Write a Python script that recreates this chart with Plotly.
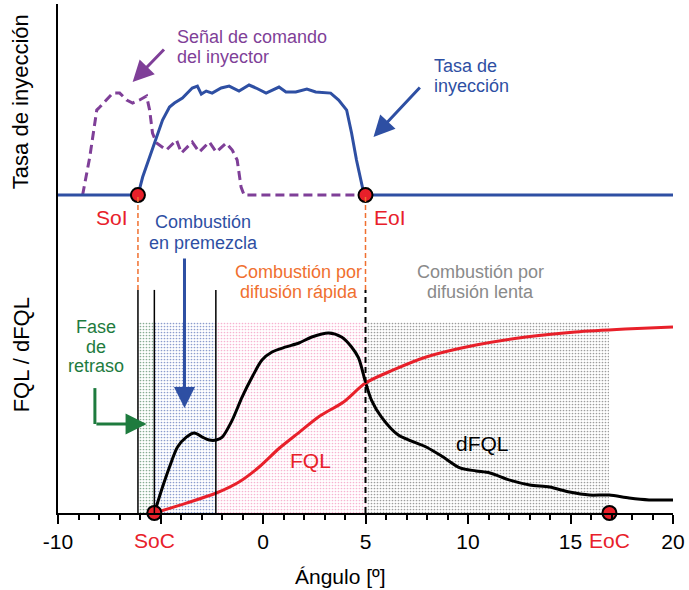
import numpy as np
import plotly.graph_objects as go

# ---------------- data ----------------
# Top panel: injection rate and injector command signal (arbitrary units)
inj_angle = [-10, -6.1, -5.87, -5.53, -5.19, -4.90, -4.56, -4.32, -3.93, -3.45,
             -3.20, -3.01, -2.77, -2.48, -2.04, -1.65, -1.17, -0.68, -0.34, 0.15,
             0.78, 1.12, 1.60, 2.14, 2.57, 3.30, 3.69, 4.08, 4.32, 4.56,
             4.90, 5.0, 20]
inj_rate = [0, 0, 0.167, 0.352, 0.537, 0.694, 0.815, 0.852, 0.898, 0.991,
            1.009, 0.935, 0.963, 0.944, 0.991, 1.009, 0.963, 1.019, 0.991, 0.944,
            1.0, 0.954, 0.954, 0.981, 0.954, 0.944, 0.880, 0.787, 0.574, 0.324,
            0.03, 0, 0]

cmd_angle = [-8.8, -8.45, -8.11, -7.96, -7.33, -6.99, -6.65, -6.36, -6.02, -5.68,
             -5.53, -5.39, -5.19, -4.71, -4.22, -3.98, -3.45, -3.11, -2.62, -2.28,
             -1.80, -1.50, -1.26, -1.07, -0.92, 5.0]
cmd_signal = [0, 0.352, 0.787, 0.815, 0.944, 0.944, 0.880, 0.852, 0.880, 0.917,
              0.787, 0.574, 0.481, 0.417, 0.509, 0.389, 0.491, 0.398, 0.491, 0.398,
              0.481, 0.417, 0.324, 0.074, 0, 0]

# Bottom panel: heat release rate (dFQL) and cumulative heat release (FQL)
hr_angle = [-5.3, -4.90, -4.56, -4.17, -3.74, -3.35, -2.96, -2.62, -2.28, -1.99,
            -1.50, -1.02, -0.53, -0.05, 0.44, 1.12, 1.75, 2.38, 3.20, 3.83,
            4.32, 4.66, 5.0, 5.29, 5.78, 6.60, 7.96, 8.79, 9.61, 10.39,
            11.07, 12.04, 13.01, 13.98, 14.95, 15.92, 16.89, 17.86, 18.83, 20]
dfql = [0, 0.139, 0.246, 0.353, 0.406, 0.428, 0.406, 0.390, 0.390, 0.406,
        0.497, 0.620, 0.727, 0.818, 0.861, 0.888, 0.909, 0.941, 0.963, 0.941,
        0.888, 0.829, 0.70, 0.604, 0.513, 0.417, 0.353, 0.299, 0.241, 0.225,
        0.214, 0.176, 0.150, 0.139, 0.112, 0.096, 0.096, 0.080, 0.070, 0.070]

fql_angle = [-5.3, -3.74, -2.28, -1.17, -0.19, 0.78, 1.75, 2.72, 3.93, 5.0,
             6.36, 7.96, 10.39, 12.82, 15.24, 17.67, 20]
fql = [0, 0.053, 0.107, 0.166, 0.246, 0.345, 0.430, 0.515, 0.594, 0.695,
       0.765, 0.834, 0.898, 0.941, 0.968, 0.984, 0.995]

# Events (degrees)
soi, eoi = -6.1, 5.0
soc, eoc = -5.3, 16.9
end_premix = -2.3

# Combustion phases
phase_edges = [soi, soc, end_premix, eoi, eoc]
phase_colors = ["#0f5a28", "#1a3a9c", "#ee6aa4", "#3a3a3a"]
phase_top = 1.02

x_tickvals = [-10, -5, 0, 5, 10, 15, 20]
x_ticktext = ["-10", "", "0", "5", "10", "15", "20"]

# ---------------- style ----------------
FONT = "Liberation Sans, Arial, sans-serif"
BLUE = "#2e4fa3"
PURPLE = "#7f3f98"
RED = "#e8202a"
ORANGE = "#f07030"
GREEN = "#1e7b3e"
GREY = "#8a8a8a"

Y_RANGE = [0, 2.722]
Y2_RANGE = [-2.944, 1.769]
# position of top-panel baseline expressed in bottom-axis units
top_base = Y_RANGE[0] + (0 - Y2_RANGE[0]) / (Y2_RANGE[1] - Y2_RANGE[0]) * (Y_RANGE[1] - Y_RANGE[0])
line_top = 1.193

fig = go.Figure()

edges = np.array(phase_edges)
mids = (edges[:-1] + edges[1:]) / 2
widths = np.diff(edges)
for m, w, c in zip(mids, widths, phase_colors):
    fig.add_trace(go.Bar(
        x=[m], y=[phase_top], width=[w], yaxis="y",
        marker=dict(color="rgba(255,255,255,0)", line=dict(width=0),
                    pattern=dict(shape=".", fgcolor=c, size=3, solidity=0.26)),
        hoverinfo="skip"))

fig.add_trace(go.Scatter(x=cmd_angle, y=cmd_signal, yaxis="y2", mode="lines",
                         line=dict(color=PURPLE, width=3, dash="9px,5px")))
fig.add_trace(go.Scatter(x=inj_angle, y=inj_rate, yaxis="y2", mode="lines",
                         line=dict(color=BLUE, width=3)))
fig.add_trace(go.Scatter(x=hr_angle, y=dfql, yaxis="y", mode="lines",
                         line=dict(color="black", width=3, shape="spline", smoothing=0.8)))
fig.add_trace(go.Scatter(x=fql_angle, y=fql, yaxis="y", mode="lines",
                         line=dict(color=RED, width=3, shape="spline", smoothing=0.8)))

marker_style = dict(size=14, color=RED, line=dict(color="black", width=2))
fig.add_trace(go.Scatter(x=[soi, eoi], y=[0, 0], yaxis="y2", mode="markers",
                         marker=marker_style, cliponaxis=False))
fig.add_trace(go.Scatter(x=[soc, eoc], y=[0, 0], yaxis="y", mode="markers",
                         marker=marker_style, cliponaxis=False))

# vertical phase lines
for xv in [soi, soc, end_premix]:
    fig.add_shape(type="line", xref="x", yref="y", x0=xv, x1=xv, y0=0, y1=line_top,
                  line=dict(color="black", width=1.5))
fig.add_shape(type="line", xref="x", yref="y", x0=eoi, x1=eoi, y0=0, y1=line_top,
              line=dict(color="black", width=2, dash="6px,4px"))
for xv in [soi, eoi]:
    fig.add_shape(type="line", xref="x", yref="y", x0=xv, x1=xv, y0=line_top, y1=top_base,
                  line=dict(color=ORANGE, width=1.5, dash="5px,3px"))

# green L-shaped arrow
fig.add_shape(type="line", xref="x", yref="y", x0=-8.2, x1=-8.2, y0=0.668, y1=0.476,
              line=dict(color=GREEN, width=3))


def arrow(x, y, ax, ay, color):
    fig.add_annotation(x=x, y=y, ax=ax, ay=ay, xref="x", yref="y", axref="x", ayref="y",
                       text="", showarrow=True, arrowhead=2, arrowsize=1.4,
                       arrowwidth=3, arrowcolor=color, standoff=0)


arrow(-5.68, 0.476, -8.2, 0.476, GREEN)
arrow(-6.36, 2.305, -4.76, 2.487, PURPLE)
arrow(5.39, 2.011, 7.72, 2.283, BLUE)
arrow(-3.83, 0.561, -3.83, 1.369, BLUE)


def label(text, x, y, color, size=18, xanchor="center", xref="x", yref="y", angle=0):
    fig.add_annotation(x=x, y=y, xref=xref, yref=yref, text=text, showarrow=False,
                       xanchor=xanchor, yanchor="middle", textangle=angle,
                       font=dict(family=FONT, size=size, color=color))


label("Señal de comando", -4.27, 2.545, PURPLE, xanchor="left")
label("del inyector", -4.27, 2.439, PURPLE, xanchor="left")
label("Tasa de", 8.25, 2.390, BLUE, xanchor="left")
label("inyección", 8.25, 2.283, BLUE, xanchor="left")
label("Combustión", -2.91, 1.556, BLUE)
label("en premezcla", -2.91, 1.444, BLUE)
label("Combustión por", 1.75, 1.289, ORANGE)
label("difusión rápida", 1.75, 1.182, ORANGE)
label("Combustión por", 10.63, 1.289, GREY)
label("difusión lenta", 10.63, 1.182, GREY)
label("Fase", -8.16, 0.995, GREEN)
label("de", -8.16, 0.888, GREEN)
label("retraso", -8.16, 0.786, GREEN)
label("FQL", 2.33, 0.283, RED, size=21)
label("dFQL", 10.73, 0.374, "black", size=21)
label("SoI", -7.38, 1.578, RED, size=21)
label("EoI", 6.21, 1.578, RED, size=21)
label("SoC", soc, -0.055, RED, size=21, yref="paper")
label("EoC", eoc, -0.055, RED, size=21, yref="paper")
label("Ángulo [º]", 0.4595, -0.1257, "black", size=21, xref="paper", yref="paper")
label("Tasa de inyección", -0.0599, 0.8075, "black", size=22, xref="paper", yref="paper", angle=-90)
label("FQL / dFQL", -0.0599, 0.310, "black", size=22, xref="paper", yref="paper", angle=-90)

fig.update_layout(
    width=689, height=590,
    margin=dict(l=58, r=13, t=4, b=77),
    plot_bgcolor="white", paper_bgcolor="white",
    showlegend=False, barmode="overlay", bargap=0,
    font=dict(family=FONT, color="black"),
    xaxis=dict(range=[-10, 20], showline=True, linecolor="black", linewidth=2,
               ticks="outside", ticklen=9, tickwidth=2, tickcolor="black",
               tickvals=x_tickvals, ticktext=x_ticktext,
               tickfont=dict(family=FONT, size=21, color="black"),
               minor=dict(dtick=1, tick0=0, ticks="outside", ticklen=5, tickwidth=1.5,
                          tickcolor="black"),
               showgrid=False, zeroline=False),
    yaxis=dict(range=Y_RANGE, showline=True, linecolor="black", linewidth=2,
               showticklabels=False, ticks="", showgrid=False, zeroline=False),
    yaxis2=dict(range=Y2_RANGE, overlaying="y", visible=False),
)

fig.write_html("out.html")
